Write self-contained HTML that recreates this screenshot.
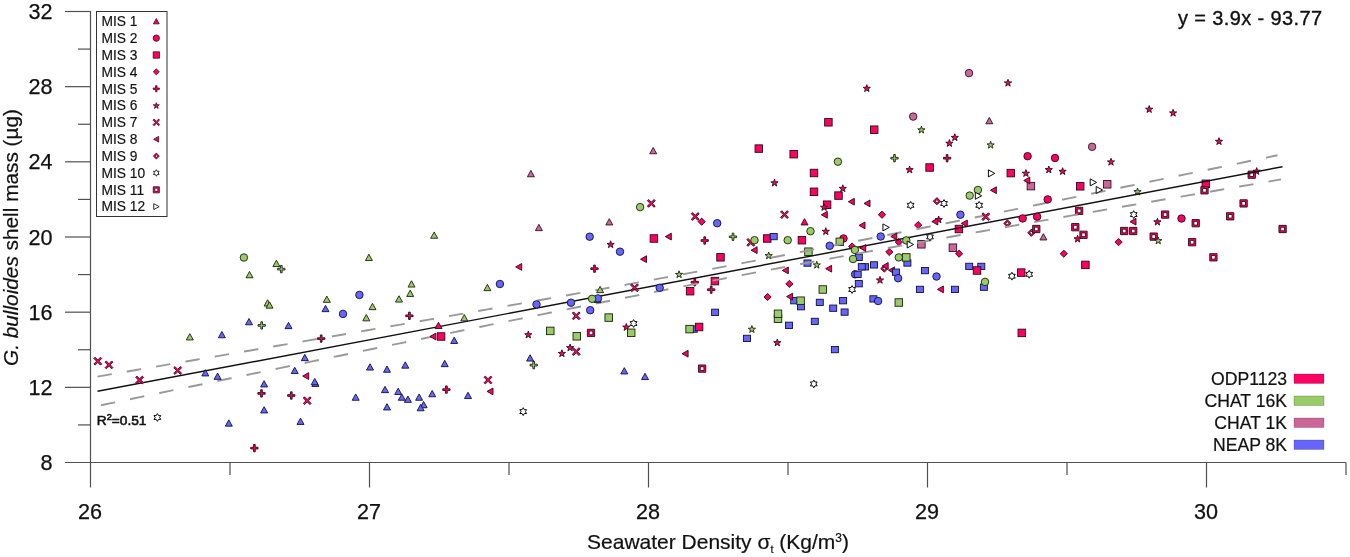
<!DOCTYPE html>
<html><head><meta charset="utf-8"><title>G. bulloides shell mass vs seawater density</title>
<style>html,body{margin:0;padding:0;background:#fff}body{width:1350px;height:557px;overflow:hidden}</style></head>
<body>
<svg width="1350" height="557" viewBox="0 0 1350 557" style="display:block">
<rect width="1350" height="557" fill="#fff"/>
<g stroke="#505050" stroke-width="1.2" fill="none">
<path d="M90.5 11.0V487.5"/>
<path d="M65 462.5H1346"/>
<path d="M230 462.5V475"/>
<path d="M369.5 462.5V487.5"/>
<path d="M509 462.5V475"/>
<path d="M648.5 462.5V487.5"/>
<path d="M788 462.5V475"/>
<path d="M927.5 462.5V487.5"/>
<path d="M1067 462.5V475"/>
<path d="M1206.5 462.5V487.5"/>
<path d="M1346 462.5V475"/>
<path d="M78 424.92H90.5"/>
<path d="M65 387.33H90.5"/>
<path d="M78 349.75H90.5"/>
<path d="M65 312.17H90.5"/>
<path d="M78 274.58H90.5"/>
<path d="M65 237H90.5"/>
<path d="M78 199.42H90.5"/>
<path d="M65 161.83H90.5"/>
<path d="M78 124.25H90.5"/>
<path d="M65 86.67H90.5"/>
<path d="M78 49.08H90.5"/>
<path d="M65 11.5H90.5"/>
</g>
<g font-family="'Liberation Sans', sans-serif" font-size="21.6" fill="#111" stroke="#111" stroke-width="0.25">
<text x="90" y="518.8" text-anchor="middle">26</text>
<text x="369" y="518.8" text-anchor="middle">27</text>
<text x="648" y="518.8" text-anchor="middle">28</text>
<text x="927" y="518.8" text-anchor="middle">29</text>
<text x="1206" y="518.8" text-anchor="middle">30</text>
<text x="52.5" y="470.1" text-anchor="end">8</text>
<text x="52.5" y="394.93" text-anchor="end">12</text>
<text x="52.5" y="319.77" text-anchor="end">16</text>
<text x="52.5" y="244.6" text-anchor="end">20</text>
<text x="52.5" y="169.43" text-anchor="end">24</text>
<text x="52.5" y="94.27" text-anchor="end">28</text>
<text x="52.5" y="19.1" text-anchor="end">32</text>
</g>
<text x="718" y="549.3" text-anchor="middle" font-family="'Liberation Sans', sans-serif" font-size="21" fill="#111" stroke="#111" stroke-width="0.2">Seawater Density σ<tspan font-size="11" dy="4">t</tspan><tspan dy="-4"> (Kg/m</tspan><tspan font-size="12" dy="-7">3</tspan><tspan dy="7">)</tspan></text>
<text transform="translate(18.3,237.5) rotate(-90)" text-anchor="middle" font-family="'Liberation Sans', sans-serif" font-size="20.8" fill="#111" stroke="#111" stroke-width="0.2"><tspan font-style="italic">G. bulloides</tspan> shell mass (µg)</text>
<text x="1178" y="25.2" font-family="'Liberation Sans', sans-serif" font-size="20" fill="#111" stroke="#111" stroke-width="0.35" textLength="144" lengthAdjust="spacing">y = 3.9x - 93.77</text>
<text x="96.8" y="424.6" font-family="'Liberation Sans', sans-serif" font-size="13.7" fill="#111" stroke="#111" stroke-width="0.6">R<tspan font-size="9.2" dy="-4.6">2</tspan><tspan dy="4.6">=0.51</tspan></text>
<g>
<path d="M280.45 265.45L282.15 265.45L282.15 268.25L284.95 268.25L284.95 269.95L282.15 269.95L282.15 272.75L280.45 272.75L280.45 269.95L277.65 269.95L277.65 268.25L280.45 268.25Z" fill="#99cc66" stroke="#18220e" stroke-width="0.9" stroke-linejoin="miter"/>
<path d="M260.85 321.75L262.55 321.75L262.55 324.55L265.35 324.55L265.35 326.25L262.55 326.25L262.55 329.05L260.85 329.05L260.85 326.25L258.05 326.25L258.05 324.55L260.85 324.55Z" fill="#99cc66" stroke="#18220e" stroke-width="0.9" stroke-linejoin="miter"/>
<path d="M320.35 334.95L322.05 334.95L322.05 337.75L324.85 337.75L324.85 339.45L322.05 339.45L322.05 342.25L320.35 342.25L320.35 339.45L317.55 339.45L317.55 337.75L320.35 337.75Z" fill="#fc0062" stroke="#2e0818" stroke-width="0.9" stroke-linejoin="miter"/>
<path d="M260.65 389.75L262.35 389.75L262.35 392.55L265.15 392.55L265.15 394.25L262.35 394.25L262.35 397.05L260.65 397.05L260.65 394.25L257.85 394.25L257.85 392.55L260.65 392.55Z" fill="#fc0062" stroke="#2e0818" stroke-width="0.9" stroke-linejoin="miter"/>
<path d="M290.45 391.85L292.15 391.85L292.15 394.65L294.95 394.65L294.95 396.35L292.15 396.35L292.15 399.15L290.45 399.15L290.45 396.35L287.65 396.35L287.65 394.65L290.45 394.65Z" fill="#fc0062" stroke="#2e0818" stroke-width="0.9" stroke-linejoin="miter"/>
<path d="M253.55 444.45L255.25 444.45L255.25 447.25L258.05 447.25L258.05 448.95L255.25 448.95L255.25 451.75L253.55 451.75L253.55 448.95L250.75 448.95L250.75 447.25L253.55 447.25Z" fill="#fc0062" stroke="#2e0818" stroke-width="0.9" stroke-linejoin="miter"/>
<path d="M408.55 312.15L410.25 312.15L410.25 314.95L413.05 314.95L413.05 316.65L410.25 316.65L410.25 319.45L408.55 319.45L408.55 316.65L405.75 316.65L405.75 314.95L408.55 314.95Z" fill="#fc0062" stroke="#2e0818" stroke-width="0.9" stroke-linejoin="miter"/>
<rect x="437.35" y="332.75" width="7.5" height="7.5" fill="#fc0062" stroke="#2e0818" stroke-width="0.9" stroke-linejoin="miter"/>
<path d="M528.3 331.1L529.18 333.69L531.91 333.73L529.73 335.36L530.53 337.97L528.3 336.4L526.07 337.97L526.87 335.36L524.69 333.73L527.42 333.69Z" fill="#fc0062" stroke="#2e0818" stroke-width="0.9" stroke-linejoin="miter"/>
<rect x="546.55" y="327.15" width="7.5" height="7.5" fill="#99cc66" stroke="#18220e" stroke-width="0.9" stroke-linejoin="miter"/>
<rect x="573.05" y="332.55" width="7.5" height="7.5" fill="#99cc66" stroke="#18220e" stroke-width="0.9" stroke-linejoin="miter"/>
<path d="M570.1 344L570.98 346.59L573.71 346.63L571.53 348.26L572.33 350.87L570.1 349.3L567.87 350.87L568.67 348.26L566.49 346.63L569.22 346.59Z" fill="#fc0062" stroke="#2e0818" stroke-width="0.9" stroke-linejoin="miter"/>
<path d="M561.9 349.8L562.78 352.39L565.51 352.43L563.33 354.06L564.13 356.67L561.9 355.1L559.67 356.67L560.47 354.06L558.29 352.43L561.02 352.39Z" fill="#fc0062" stroke="#2e0818" stroke-width="0.9" stroke-linejoin="miter"/>
<path d="M587.35 329.25L594.65 329.25L594.65 336.55L587.35 336.55ZM589.15 331.05L589.15 334.75L592.85 334.75L592.85 331.05Z" fill-rule="evenodd" fill="#fc0062" stroke="#2e0818" stroke-width="0.9" stroke-linejoin="miter"/>
<path d="M593.65 265.05L595.35 265.05L595.35 267.85L598.15 267.85L598.15 269.55L595.35 269.55L595.35 272.35L593.65 272.35L593.65 269.55L590.85 269.55L590.85 267.85L593.65 267.85Z" fill="#fc0062" stroke="#2e0818" stroke-width="0.9" stroke-linejoin="miter"/>
<rect x="604.95" y="313.85" width="7.5" height="7.5" fill="#99cc66" stroke="#18220e" stroke-width="0.9" stroke-linejoin="miter"/>
<path d="M445.55 385.95L447.25 385.95L447.25 388.75L450.05 388.75L450.05 390.45L447.25 390.45L447.25 393.25L445.55 393.25L445.55 390.45L442.75 390.45L442.75 388.75L445.55 388.75Z" fill="#fc0062" stroke="#2e0818" stroke-width="0.9" stroke-linejoin="miter"/>
<path d="M532.85 361.45L534.55 361.45L534.55 364.25L537.35 364.25L537.35 365.95L534.55 365.95L534.55 368.75L532.85 368.75L532.85 365.95L530.05 365.95L530.05 364.25L532.85 364.25Z" fill="#99cc66" stroke="#18220e" stroke-width="0.9" stroke-linejoin="miter"/>
<rect x="755.05" y="144.85" width="7.5" height="7.5" fill="#fc0062" stroke="#2e0818" stroke-width="0.9" stroke-linejoin="miter"/>
<rect x="789.95" y="150.45" width="7.5" height="7.5" fill="#fc0062" stroke="#2e0818" stroke-width="0.9" stroke-linejoin="miter"/>
<rect x="824.65" y="118.55" width="7.5" height="7.5" fill="#fc0062" stroke="#2e0818" stroke-width="0.9" stroke-linejoin="miter"/>
<path d="M866.8 84.7L867.68 87.29L870.41 87.33L868.23 88.96L869.03 91.57L866.8 90L864.57 91.57L865.37 88.96L863.19 87.33L865.92 87.29Z" fill="#fc0062" stroke="#2e0818" stroke-width="0.9" stroke-linejoin="miter"/>
<path d="M610.6 240.8L611.48 243.39L614.21 243.43L612.03 245.06L612.83 247.67L610.6 246.1L608.37 247.67L609.17 245.06L606.99 243.43L609.72 243.39Z" fill="#fc0062" stroke="#2e0818" stroke-width="0.9" stroke-linejoin="miter"/>
<rect x="650.15" y="234.75" width="7.5" height="7.5" fill="#fc0062" stroke="#2e0818" stroke-width="0.9" stroke-linejoin="miter"/>
<path d="M701.7 218.1L705.3 221.7L701.7 225.3L698.1 221.7Z" fill="#fc0062" stroke="#2e0818" stroke-width="0.9" stroke-linejoin="miter"/>
<path d="M703.85 236.85L705.55 236.85L705.55 239.65L708.35 239.65L708.35 241.35L705.55 241.35L705.55 244.15L703.85 244.15L703.85 241.35L701.05 241.35L701.05 239.65L703.85 239.65Z" fill="#fc0062" stroke="#2e0818" stroke-width="0.9" stroke-linejoin="miter"/>
<path d="M732.15 233.15L733.85 233.15L733.85 235.95L736.65 235.95L736.65 237.65L733.85 237.65L733.85 240.45L732.15 240.45L732.15 237.65L729.35 237.65L729.35 235.95L732.15 235.95Z" fill="#99cc66" stroke="#18220e" stroke-width="0.9" stroke-linejoin="miter"/>
<rect x="716.75" y="253.55" width="7.5" height="7.5" fill="#fc0062" stroke="#2e0818" stroke-width="0.9" stroke-linejoin="miter"/>
<path d="M679.1 270.8L679.98 273.39L682.71 273.43L680.53 275.06L681.33 277.67L679.1 276.1L676.87 277.67L677.67 275.06L675.49 273.43L678.22 273.39Z" fill="#99cc66" stroke="#18220e" stroke-width="0.9" stroke-linejoin="miter"/>
<path d="M774.5 179.2L775.38 181.79L778.11 181.83L775.93 183.46L776.73 186.07L774.5 184.5L772.27 186.07L773.07 183.46L770.89 181.83L773.62 181.79Z" fill="#fc0062" stroke="#2e0818" stroke-width="0.9" stroke-linejoin="miter"/>
<rect x="763.45" y="234.75" width="7.5" height="7.5" fill="#fc0062" stroke="#2e0818" stroke-width="0.9" stroke-linejoin="miter"/>
<rect x="770.2" y="233.45" width="7" height="6.3" fill="#6666ff" stroke="#101036" stroke-width="0.9" stroke-linejoin="miter"/>
<path d="M768.7 252L769.58 254.59L772.31 254.63L770.13 256.26L770.93 258.87L768.7 257.3L766.47 258.87L767.27 256.26L765.09 254.63L767.82 254.59Z" fill="#99cc66" stroke="#18220e" stroke-width="0.9" stroke-linejoin="miter"/>
<rect x="798.15" y="236.45" width="7.5" height="7.5" fill="#fc0062" stroke="#2e0818" stroke-width="0.9" stroke-linejoin="miter"/>
<rect x="810.25" y="169.25" width="7.5" height="7.5" fill="#fc0062" stroke="#2e0818" stroke-width="0.9" stroke-linejoin="miter"/>
<rect x="810.25" y="188.05" width="7.5" height="7.5" fill="#fc0062" stroke="#2e0818" stroke-width="0.9" stroke-linejoin="miter"/>
<rect x="823.35" y="200.95" width="7.5" height="7.5" fill="#fc0062" stroke="#2e0818" stroke-width="0.9" stroke-linejoin="miter"/>
<path d="M824.1 203.6L824.98 206.19L827.71 206.23L825.53 207.86L826.33 210.47L824.1 208.9L821.87 210.47L822.67 207.86L820.49 206.23L823.22 206.19Z" fill="#fc0062" stroke="#2e0818" stroke-width="0.9" stroke-linejoin="miter"/>
<path d="M825.8 227.7L826.68 230.29L829.41 230.33L827.23 231.96L828.03 234.57L825.8 233L823.57 234.57L824.37 231.96L822.19 230.33L824.92 230.29Z" fill="#fc0062" stroke="#2e0818" stroke-width="0.9" stroke-linejoin="miter"/>
<rect x="834.75" y="191.85" width="7.5" height="7.5" fill="#fc0062" stroke="#2e0818" stroke-width="0.9" stroke-linejoin="miter"/>
<path d="M842.8 184.8L843.68 187.39L846.41 187.43L844.23 189.06L845.03 191.67L842.8 190.1L840.57 191.67L841.37 189.06L839.19 187.43L841.92 187.39Z" fill="#fc0062" stroke="#2e0818" stroke-width="0.9" stroke-linejoin="miter"/>
<circle cx="843.5" cy="238.5" r="3.75" fill="#fc0062" stroke="#2e0818" stroke-width="0.9" stroke-linejoin="miter"/>
<rect x="836.05" y="238.05" width="7.5" height="7.5" fill="#99cc66" stroke="#18220e" stroke-width="0.9" stroke-linejoin="miter"/>
<rect x="804.65" y="247.95" width="7.5" height="7.5" fill="#99cc66" stroke="#18220e" stroke-width="0.9" stroke-linejoin="miter"/>
<rect x="804" y="259.95" width="7" height="6.3" fill="#6666ff" stroke="#101036" stroke-width="0.9" stroke-linejoin="miter"/>
<path d="M816.8 261.3L817.68 263.89L820.41 263.93L818.23 265.56L819.03 268.17L816.8 266.6L814.57 268.17L815.37 265.56L813.19 263.93L815.92 263.89Z" fill="#99cc66" stroke="#18220e" stroke-width="0.9" stroke-linejoin="miter"/>
<path d="M852.1 242.9L855.7 246.5L852.1 250.1L848.5 246.5Z" fill="#fc0062" stroke="#2e0818" stroke-width="0.9" stroke-linejoin="miter"/>
<rect x="855.3" y="254.15" width="7" height="6.3" fill="#6666ff" stroke="#101036" stroke-width="0.9" stroke-linejoin="miter"/>
<rect x="861.5" y="263.65" width="7" height="6.3" fill="#6666ff" stroke="#101036" stroke-width="0.9" stroke-linejoin="miter"/>
<rect x="858.3" y="263.65" width="7" height="6.3" fill="#6666ff" stroke="#101036" stroke-width="0.9" stroke-linejoin="miter"/>
<circle cx="855.1" cy="274.3" r="3.75" fill="#6666ff" stroke="#101036" stroke-width="0.9" stroke-linejoin="miter"/>
<rect x="854.2" y="271.15" width="7" height="6.3" fill="#6666ff" stroke="#101036" stroke-width="0.9" stroke-linejoin="miter"/>
<path d="M693.95 278.55L695.65 278.55L695.65 281.35L698.45 281.35L698.45 283.05L695.65 283.05L695.65 285.85L693.95 285.85L693.95 283.05L691.15 283.05L691.15 281.35L693.95 281.35Z" fill="#fc0062" stroke="#2e0818" stroke-width="0.9" stroke-linejoin="miter"/>
<rect x="711.15" y="277.35" width="7.5" height="7.5" fill="#fc0062" stroke="#2e0818" stroke-width="0.9" stroke-linejoin="miter"/>
<rect x="686.35" y="287.45" width="7.5" height="7.5" fill="#fc0062" stroke="#2e0818" stroke-width="0.9" stroke-linejoin="miter"/>
<path d="M710.35 286.05L712.05 286.05L712.05 288.85L714.85 288.85L714.85 290.55L712.05 290.55L712.05 293.35L710.35 293.35L710.35 290.55L707.55 290.55L707.55 288.85L710.35 288.85Z" fill="#fc0062" stroke="#2e0818" stroke-width="0.9" stroke-linejoin="miter"/>
<path d="M626.3 323.5L627.18 326.09L629.91 326.13L627.73 327.76L628.53 330.37L626.3 328.8L624.07 330.37L624.87 327.76L622.69 326.13L625.42 326.09Z" fill="#fc0062" stroke="#2e0818" stroke-width="0.9" stroke-linejoin="miter"/>
<rect x="627.45" y="329.05" width="7.5" height="7.5" fill="#99cc66" stroke="#18220e" stroke-width="0.9" stroke-linejoin="miter"/>
<rect x="711.6" y="309.15" width="7" height="6.3" fill="#6666ff" stroke="#101036" stroke-width="0.9" stroke-linejoin="miter"/>
<rect x="690.2" y="325.95" width="7" height="6.3" fill="#6666ff" stroke="#101036" stroke-width="0.9" stroke-linejoin="miter"/>
<rect x="685.85" y="325.35" width="7.5" height="7.5" fill="#99cc66" stroke="#18220e" stroke-width="0.9" stroke-linejoin="miter"/>
<rect x="695.35" y="323.25" width="7.5" height="7.5" fill="#fc0062" stroke="#2e0818" stroke-width="0.9" stroke-linejoin="miter"/>
<path d="M698.45 364.95L705.75 364.95L705.75 372.25L698.45 372.25ZM700.25 366.75L700.25 370.45L703.95 370.45L703.95 366.75Z" fill-rule="evenodd" fill="#fc0062" stroke="#2e0818" stroke-width="0.9" stroke-linejoin="miter"/>
<path d="M789.4 280.3L793 283.9L789.4 287.5L785.8 283.9Z" fill="#fc0062" stroke="#2e0818" stroke-width="0.9" stroke-linejoin="miter"/>
<path d="M767.6 293.4L771.2 297L767.6 300.6L764 297Z" fill="#fc0062" stroke="#2e0818" stroke-width="0.9" stroke-linejoin="miter"/>
<rect x="790.7" y="297.55" width="7" height="6.3" fill="#6666ff" stroke="#101036" stroke-width="0.9" stroke-linejoin="miter"/>
<rect x="797.5" y="303.55" width="7" height="6.3" fill="#6666ff" stroke="#101036" stroke-width="0.9" stroke-linejoin="miter"/>
<rect x="796.85" y="296.95" width="7.5" height="7.5" fill="#99cc66" stroke="#18220e" stroke-width="0.9" stroke-linejoin="miter"/>
<rect x="819.05" y="285.75" width="7.5" height="7.5" fill="#99cc66" stroke="#18220e" stroke-width="0.9" stroke-linejoin="miter"/>
<rect x="855.3" y="280.55" width="7" height="6.3" fill="#6666ff" stroke="#101036" stroke-width="0.9" stroke-linejoin="miter"/>
<rect x="816.3" y="299.25" width="7" height="6.3" fill="#6666ff" stroke="#101036" stroke-width="0.9" stroke-linejoin="miter"/>
<rect x="839.6" y="297.55" width="7" height="6.3" fill="#6666ff" stroke="#101036" stroke-width="0.9" stroke-linejoin="miter"/>
<rect x="829.7" y="305.05" width="7" height="6.3" fill="#6666ff" stroke="#101036" stroke-width="0.9" stroke-linejoin="miter"/>
<rect x="841.1" y="308.95" width="7" height="6.3" fill="#6666ff" stroke="#101036" stroke-width="0.9" stroke-linejoin="miter"/>
<rect x="774.25" y="315.05" width="7.5" height="7.5" fill="#99cc66" stroke="#18220e" stroke-width="0.9" stroke-linejoin="miter"/>
<rect x="774.25" y="310.05" width="7.5" height="7.5" fill="#99cc66" stroke="#18220e" stroke-width="0.9" stroke-linejoin="miter"/>
<rect x="785.5" y="322.15" width="7" height="6.3" fill="#6666ff" stroke="#101036" stroke-width="0.9" stroke-linejoin="miter"/>
<rect x="811.3" y="318.25" width="7" height="6.3" fill="#6666ff" stroke="#101036" stroke-width="0.9" stroke-linejoin="miter"/>
<path d="M751.9 325.6L752.78 328.19L755.51 328.23L753.33 329.86L754.13 332.47L751.9 330.9L749.67 332.47L750.47 329.86L748.29 328.23L751.02 328.19Z" fill="#99cc66" stroke="#18220e" stroke-width="0.9" stroke-linejoin="miter"/>
<rect x="743.5" y="335.25" width="7" height="6.3" fill="#6666ff" stroke="#101036" stroke-width="0.9" stroke-linejoin="miter"/>
<path d="M777.3 339L778.18 341.59L780.91 341.63L778.73 343.26L779.53 345.87L777.3 344.3L775.07 345.87L775.87 343.26L773.69 341.63L776.42 341.59Z" fill="#fc0062" stroke="#2e0818" stroke-width="0.9" stroke-linejoin="miter"/>
<rect x="831.4" y="346.45" width="7" height="6.3" fill="#6666ff" stroke="#101036" stroke-width="0.9" stroke-linejoin="miter"/>
<path d="M1008 79.3L1008.88 81.89L1011.61 81.93L1009.43 83.56L1010.23 86.17L1008 84.6L1005.77 86.17L1006.57 83.56L1004.39 81.93L1007.12 81.89Z" fill="#fc0062" stroke="#2e0818" stroke-width="0.9" stroke-linejoin="miter"/>
<rect x="870.45" y="125.95" width="7.5" height="7.5" fill="#fc0062" stroke="#2e0818" stroke-width="0.9" stroke-linejoin="miter"/>
<path d="M921.4 126.2L922.28 128.79L925.01 128.83L922.83 130.46L923.63 133.07L921.4 131.5L919.17 133.07L919.97 130.46L917.79 128.83L920.52 128.79Z" fill="#99cc66" stroke="#18220e" stroke-width="0.9" stroke-linejoin="miter"/>
<path d="M954.8 133.8L955.68 136.39L958.41 136.43L956.23 138.06L957.03 140.67L954.8 139.1L952.57 140.67L953.37 138.06L951.19 136.43L953.92 136.39Z" fill="#fc0062" stroke="#2e0818" stroke-width="0.9" stroke-linejoin="miter"/>
<path d="M949.4 139.6L950.28 142.19L953.01 142.23L950.83 143.86L951.63 146.47L949.4 144.9L947.17 146.47L947.97 143.86L945.79 142.23L948.52 142.19Z" fill="#fc0062" stroke="#2e0818" stroke-width="0.9" stroke-linejoin="miter"/>
<path d="M990.6 141.3L991.48 143.89L994.21 143.93L992.03 145.56L992.83 148.17L990.6 146.6L988.37 148.17L989.17 145.56L986.99 143.93L989.72 143.89Z" fill="#99cc66" stroke="#18220e" stroke-width="0.9" stroke-linejoin="miter"/>
<path d="M893.65 154.55L895.35 154.55L895.35 157.35L898.15 157.35L898.15 159.05L895.35 159.05L895.35 161.85L893.65 161.85L893.65 159.05L890.85 159.05L890.85 157.35L893.65 157.35Z" fill="#99cc66" stroke="#18220e" stroke-width="0.9" stroke-linejoin="miter"/>
<path d="M946.25 154.55L947.95 154.55L947.95 157.35L950.75 157.35L950.75 159.05L947.95 159.05L947.95 161.85L946.25 161.85L946.25 159.05L943.45 159.05L943.45 157.35L946.25 157.35Z" fill="#fc0062" stroke="#2e0818" stroke-width="0.9" stroke-linejoin="miter"/>
<path d="M1111 158.3L1111.88 160.89L1114.61 160.93L1112.43 162.56L1113.23 165.17L1111 163.6L1108.77 165.17L1109.57 162.56L1107.39 160.93L1110.12 160.89Z" fill="#fc0062" stroke="#2e0818" stroke-width="0.9" stroke-linejoin="miter"/>
<path d="M909.6 166L910.48 168.59L913.21 168.63L911.03 170.26L911.83 172.87L909.6 171.3L907.37 172.87L908.17 170.26L905.99 168.63L908.72 168.59Z" fill="#fc0062" stroke="#2e0818" stroke-width="0.9" stroke-linejoin="miter"/>
<rect x="925.85" y="163.75" width="7.5" height="7.5" fill="#fc0062" stroke="#2e0818" stroke-width="0.9" stroke-linejoin="miter"/>
<rect x="1007.05" y="169.35" width="7.5" height="7.5" fill="#fc0062" stroke="#2e0818" stroke-width="0.9" stroke-linejoin="miter"/>
<path d="M1025.9 169.6L1026.78 172.19L1029.51 172.23L1027.33 173.86L1028.13 176.47L1025.9 174.9L1023.67 176.47L1024.47 173.86L1022.29 172.23L1025.02 172.19Z" fill="#fc0062" stroke="#2e0818" stroke-width="0.9" stroke-linejoin="miter"/>
<rect x="1027.15" y="182.35" width="7.5" height="7.5" fill="#cc6699" stroke="#2a1422" stroke-width="0.9" stroke-linejoin="miter"/>
<path d="M1048.8 166L1049.68 168.59L1052.41 168.63L1050.23 170.26L1051.03 172.87L1048.8 171.3L1046.57 172.87L1047.37 170.26L1045.19 168.63L1047.92 168.59Z" fill="#fc0062" stroke="#2e0818" stroke-width="0.9" stroke-linejoin="miter"/>
<path d="M1062.6 167.7L1063.48 170.29L1066.21 170.33L1064.03 171.96L1064.83 174.57L1062.6 173L1060.37 174.57L1061.17 171.96L1058.99 170.33L1061.72 170.29Z" fill="#fc0062" stroke="#2e0818" stroke-width="0.9" stroke-linejoin="miter"/>
<rect x="1076.45" y="182.55" width="7.5" height="7.5" fill="#fc0062" stroke="#2e0818" stroke-width="0.9" stroke-linejoin="miter"/>
<rect x="1103.45" y="180.55" width="7.5" height="7.5" fill="#cc6699" stroke="#2a1422" stroke-width="0.9" stroke-linejoin="miter"/>
<path d="M936.9 197.6L940.5 201.2L936.9 204.8L933.3 201.2ZM936.9 199.6L935.3 201.2L936.9 202.8L938.5 201.2Z" fill-rule="evenodd" fill="#fc0062" stroke="#2e0818" stroke-width="0.9" stroke-linejoin="miter"/>
<path d="M882 211.1L885.6 214.7L882 218.3L878.4 214.7Z" fill="#fc0062" stroke="#2e0818" stroke-width="0.9" stroke-linejoin="miter"/>
<path d="M1075.45 207.25L1082.75 207.25L1082.75 214.55L1075.45 214.55ZM1077.25 209.05L1077.25 212.75L1080.95 212.75L1080.95 209.05Z" fill-rule="evenodd" fill="#fc0062" stroke="#2e0818" stroke-width="0.9" stroke-linejoin="miter"/>
<path d="M918.2 221.5L921.8 225.1L918.2 228.7L914.6 225.1Z" fill="#fc0062" stroke="#2e0818" stroke-width="0.9" stroke-linejoin="miter"/>
<path d="M938.7 216L939.58 218.59L942.31 218.63L940.13 220.26L940.93 222.87L938.7 221.3L936.47 222.87L937.27 220.26L935.09 218.63L937.82 218.59Z" fill="#fc0062" stroke="#2e0818" stroke-width="0.9" stroke-linejoin="miter"/>
<path d="M1007.4 219.8L1011 223.4L1007.4 227L1003.8 223.4ZM1007.4 221.8L1005.8 223.4L1007.4 225L1009 223.4Z" fill-rule="evenodd" fill="#fc0062" stroke="#2e0818" stroke-width="0.9" stroke-linejoin="miter"/>
<rect x="955.15" y="225.25" width="7.5" height="7.5" fill="#fc0062" stroke="#2e0818" stroke-width="0.9" stroke-linejoin="miter"/>
<path d="M1031.3 229.2L1034.9 232.8L1031.3 236.4L1027.7 232.8ZM1031.3 231.2L1029.7 232.8L1031.3 234.4L1032.9 232.8Z" fill-rule="evenodd" fill="#fc0062" stroke="#2e0818" stroke-width="0.9" stroke-linejoin="miter"/>
<path d="M1032.65 225.35L1039.95 225.35L1039.95 232.65L1032.65 232.65ZM1034.45 227.15L1034.45 230.85L1038.15 230.85L1038.15 227.15Z" fill-rule="evenodd" fill="#fc0062" stroke="#2e0818" stroke-width="0.9" stroke-linejoin="miter"/>
<path d="M1071.65 223.55L1078.95 223.55L1078.95 230.85L1071.65 230.85ZM1073.45 225.35L1073.45 229.05L1077.15 229.05L1077.15 225.35Z" fill-rule="evenodd" fill="#fc0062" stroke="#2e0818" stroke-width="0.9" stroke-linejoin="miter"/>
<path d="M1079.85 231.15L1087.15 231.15L1087.15 238.45L1079.85 238.45ZM1081.65 232.95L1081.65 236.65L1085.35 236.65L1085.35 232.95Z" fill-rule="evenodd" fill="#fc0062" stroke="#2e0818" stroke-width="0.9" stroke-linejoin="miter"/>
<path d="M1077.6 235.2L1078.48 237.79L1081.21 237.83L1079.03 239.46L1079.83 242.07L1077.6 240.5L1075.37 242.07L1076.17 239.46L1073.99 237.83L1076.72 237.79Z" fill="#fc0062" stroke="#2e0818" stroke-width="0.9" stroke-linejoin="miter"/>
<path d="M1118.6 238.5L1122.2 242.1L1118.6 245.7L1115 242.1Z" fill="#fc0062" stroke="#2e0818" stroke-width="0.9" stroke-linejoin="miter"/>
<path d="M898.8 238.5L902.4 242.1L898.8 245.7L895.2 242.1Z" fill="#fc0062" stroke="#2e0818" stroke-width="0.9" stroke-linejoin="miter"/>
<rect x="917.65" y="240.55" width="7.5" height="7.5" fill="#cc6699" stroke="#2a1422" stroke-width="0.9" stroke-linejoin="miter"/>
<path d="M889.3 248.4L892.9 252L889.3 255.6L885.7 252Z" fill="#fc0062" stroke="#2e0818" stroke-width="0.9" stroke-linejoin="miter"/>
<rect x="903.9" y="259.85" width="7" height="6.3" fill="#6666ff" stroke="#101036" stroke-width="0.9" stroke-linejoin="miter"/>
<rect x="902.55" y="253.65" width="7.5" height="7.5" fill="#99cc66" stroke="#18220e" stroke-width="0.9" stroke-linejoin="miter"/>
<rect x="949.15" y="243.95" width="7.5" height="7.5" fill="#cc6699" stroke="#2a1422" stroke-width="0.9" stroke-linejoin="miter"/>
<path d="M959.1 250.1L962.7 253.7L959.1 257.3L955.5 253.7Z" fill="#fc0062" stroke="#2e0818" stroke-width="0.9" stroke-linejoin="miter"/>
<path d="M1063.8 250.1L1067.4 253.7L1063.8 257.3L1060.2 253.7Z" fill="#fc0062" stroke="#2e0818" stroke-width="0.9" stroke-linejoin="miter"/>
<rect x="1081.65" y="261.15" width="7.5" height="7.5" fill="#fc0062" stroke="#2e0818" stroke-width="0.9" stroke-linejoin="miter"/>
<rect x="870.5" y="261.75" width="7" height="6.3" fill="#6666ff" stroke="#101036" stroke-width="0.9" stroke-linejoin="miter"/>
<path d="M884.3 265L887.9 268.6L884.3 272.2L880.7 268.6ZM884.3 267L882.7 268.6L884.3 270.2L885.9 268.6Z" fill-rule="evenodd" fill="#fc0062" stroke="#2e0818" stroke-width="0.9" stroke-linejoin="miter"/>
<path d="M888.5 270.3L894.5 266.9L894.5 273.7Z" fill="#fc0062" stroke="#2e0818" stroke-width="0.9" stroke-linejoin="miter"/>
<rect x="965.7" y="263.25" width="7" height="6.3" fill="#6666ff" stroke="#101036" stroke-width="0.9" stroke-linejoin="miter"/>
<rect x="977.8" y="263.25" width="7" height="6.3" fill="#6666ff" stroke="#101036" stroke-width="0.9" stroke-linejoin="miter"/>
<rect x="973.25" y="266.75" width="7.5" height="7.5" fill="#fc0062" stroke="#2e0818" stroke-width="0.9" stroke-linejoin="miter"/>
<path d="M880 276.4L880.88 278.99L883.61 279.03L881.43 280.66L882.23 283.27L880 281.7L877.77 283.27L878.57 280.66L876.39 279.03L879.12 278.99Z" fill="#fc0062" stroke="#2e0818" stroke-width="0.9" stroke-linejoin="miter"/>
<rect x="892.5" y="269.05" width="7" height="6.3" fill="#6666ff" stroke="#101036" stroke-width="0.9" stroke-linejoin="miter"/>
<rect x="921.4" y="267.45" width="7" height="6.3" fill="#6666ff" stroke="#101036" stroke-width="0.9" stroke-linejoin="miter"/>
<rect x="980.4" y="284.05" width="7" height="6.3" fill="#6666ff" stroke="#101036" stroke-width="0.9" stroke-linejoin="miter"/>
<rect x="916.4" y="286.25" width="7" height="6.3" fill="#6666ff" stroke="#101036" stroke-width="0.9" stroke-linejoin="miter"/>
<rect x="951.5" y="286.25" width="7" height="6.3" fill="#6666ff" stroke="#101036" stroke-width="0.9" stroke-linejoin="miter"/>
<rect x="869.9" y="295.75" width="7" height="6.3" fill="#6666ff" stroke="#101036" stroke-width="0.9" stroke-linejoin="miter"/>
<rect x="895.05" y="298.75" width="7.5" height="7.5" fill="#99cc66" stroke="#18220e" stroke-width="0.9" stroke-linejoin="miter"/>
<rect x="1018.05" y="329.15" width="7.5" height="7.5" fill="#fc0062" stroke="#2e0818" stroke-width="0.9" stroke-linejoin="miter"/>
<rect x="1017.45" y="268.85" width="7.5" height="7.5" fill="#fc0062" stroke="#2e0818" stroke-width="0.9" stroke-linejoin="miter"/>
<path d="M1149.2 105.6L1150.08 108.19L1152.81 108.23L1150.63 109.86L1151.43 112.47L1149.2 110.9L1146.97 112.47L1147.77 109.86L1145.59 108.23L1148.32 108.19Z" fill="#fc0062" stroke="#2e0818" stroke-width="0.9" stroke-linejoin="miter"/>
<path d="M1173.1 109.3L1173.98 111.89L1176.71 111.93L1174.53 113.56L1175.33 116.17L1173.1 114.6L1170.87 116.17L1171.67 113.56L1169.49 111.93L1172.22 111.89Z" fill="#fc0062" stroke="#2e0818" stroke-width="0.9" stroke-linejoin="miter"/>
<path d="M1219 137.7L1219.88 140.29L1222.61 140.33L1220.43 141.96L1221.23 144.57L1219 143L1216.77 144.57L1217.57 141.96L1215.39 140.33L1218.12 140.29Z" fill="#fc0062" stroke="#2e0818" stroke-width="0.9" stroke-linejoin="miter"/>
<path d="M1137.5 188L1138.38 190.59L1141.11 190.63L1138.93 192.26L1139.73 194.87L1137.5 193.3L1135.27 194.87L1136.07 192.26L1133.89 190.63L1136.62 190.59Z" fill="#99cc66" stroke="#18220e" stroke-width="0.9" stroke-linejoin="miter"/>
<rect x="1202.05" y="180.05" width="7.5" height="7.5" fill="#fc0062" stroke="#2e0818" stroke-width="0.9" stroke-linejoin="miter"/>
<path d="M1200.85 186.65L1208.15 186.65L1208.15 193.95L1200.85 193.95ZM1202.65 188.45L1202.65 192.15L1206.35 192.15L1206.35 188.45Z" fill-rule="evenodd" fill="#fc0062" stroke="#2e0818" stroke-width="0.9" stroke-linejoin="miter"/>
<path d="M1256.7 167.6L1257.58 170.19L1260.31 170.23L1258.13 171.86L1258.93 174.47L1256.7 172.9L1254.47 174.47L1255.27 171.86L1253.09 170.23L1255.82 170.19Z" fill="#fc0062" stroke="#2e0818" stroke-width="0.9" stroke-linejoin="miter"/>
<path d="M1248.05 171.05L1255.35 171.05L1255.35 178.35L1248.05 178.35ZM1249.85 172.85L1249.85 176.55L1253.55 176.55L1253.55 172.85Z" fill-rule="evenodd" fill="#fc0062" stroke="#2e0818" stroke-width="0.9" stroke-linejoin="miter"/>
<path d="M1239.95 199.75L1247.25 199.75L1247.25 207.05L1239.95 207.05ZM1241.75 201.55L1241.75 205.25L1245.45 205.25L1245.45 201.55Z" fill-rule="evenodd" fill="#fc0062" stroke="#2e0818" stroke-width="0.9" stroke-linejoin="miter"/>
<path d="M1226.55 212.65L1233.85 212.65L1233.85 219.95L1226.55 219.95ZM1228.35 214.45L1228.35 218.15L1232.05 218.15L1232.05 214.45Z" fill-rule="evenodd" fill="#fc0062" stroke="#2e0818" stroke-width="0.9" stroke-linejoin="miter"/>
<path d="M1278.95 225.35L1286.25 225.35L1286.25 232.65L1278.95 232.65ZM1280.75 227.15L1280.75 230.85L1284.45 230.85L1284.45 227.15Z" fill-rule="evenodd" fill="#fc0062" stroke="#2e0818" stroke-width="0.9" stroke-linejoin="miter"/>
<path d="M1161.45 210.95L1168.75 210.95L1168.75 218.25L1161.45 218.25ZM1163.25 212.75L1163.25 216.45L1166.95 216.45L1166.95 212.75Z" fill-rule="evenodd" fill="#fc0062" stroke="#2e0818" stroke-width="0.9" stroke-linejoin="miter"/>
<path d="M1192.05 219.55L1199.35 219.55L1199.35 226.85L1192.05 226.85ZM1193.85 221.35L1193.85 225.05L1197.55 225.05L1197.55 221.35Z" fill-rule="evenodd" fill="#fc0062" stroke="#2e0818" stroke-width="0.9" stroke-linejoin="miter"/>
<path d="M1157.4 218.2L1158.28 220.79L1161.01 220.83L1158.83 222.46L1159.63 225.07L1157.4 223.5L1155.17 225.07L1155.97 222.46L1153.79 220.83L1156.52 220.79Z" fill="#fc0062" stroke="#2e0818" stroke-width="0.9" stroke-linejoin="miter"/>
<path d="M1120.55 227.35L1127.85 227.35L1127.85 234.65L1120.55 234.65ZM1122.35 229.15L1122.35 232.85L1126.05 232.85L1126.05 229.15Z" fill-rule="evenodd" fill="#fc0062" stroke="#2e0818" stroke-width="0.9" stroke-linejoin="miter"/>
<path d="M1129.55 227.35L1136.85 227.35L1136.85 234.65L1129.55 234.65ZM1131.35 229.15L1131.35 232.85L1135.05 232.85L1135.05 229.15Z" fill-rule="evenodd" fill="#fc0062" stroke="#2e0818" stroke-width="0.9" stroke-linejoin="miter"/>
<path d="M1150.05 232.95L1157.35 232.95L1157.35 240.25L1150.05 240.25ZM1151.85 234.75L1151.85 238.45L1155.55 238.45L1155.55 234.75Z" fill-rule="evenodd" fill="#fc0062" stroke="#2e0818" stroke-width="0.9" stroke-linejoin="miter"/>
<path d="M1158.2 237L1159.08 239.59L1161.81 239.63L1159.63 241.26L1160.43 243.87L1158.2 242.3L1155.97 243.87L1156.77 241.26L1154.59 239.63L1157.32 239.59Z" fill="#99cc66" stroke="#18220e" stroke-width="0.9" stroke-linejoin="miter"/>
<path d="M1188.45 238.55L1195.75 238.55L1195.75 245.85L1188.45 245.85ZM1190.25 240.35L1190.25 244.05L1193.95 244.05L1193.95 240.35Z" fill-rule="evenodd" fill="#fc0062" stroke="#2e0818" stroke-width="0.9" stroke-linejoin="miter"/>
<path d="M1209.75 253.65L1217.05 253.65L1217.05 260.95L1209.75 260.95ZM1211.55 255.45L1211.55 259.15L1215.25 259.15L1215.25 255.45Z" fill-rule="evenodd" fill="#fc0062" stroke="#2e0818" stroke-width="0.9" stroke-linejoin="miter"/>
</g>
<path d="M97.5 391.3L1282.5 166.7" stroke="#111" stroke-width="1.45" fill="none"/>
<path d="M97.5 376.6L107.5 374.9L117.5 373.19L127.5 371.48L137.5 369.77L147.5 368.07L157.5 366.36L167.5 364.65L177.5 362.93L187.5 361.22L197.5 359.51L207.5 357.8L217.5 356.09L227.5 354.37L237.5 352.66L247.5 350.94L257.5 349.22L267.5 347.51L277.5 345.79L287.5 344.07L297.5 342.35L307.5 340.62L317.5 338.9L327.5 337.18L337.5 335.45L347.5 333.73L357.5 332L367.5 330.27L377.5 328.54L387.5 326.8L397.5 325.07L407.5 323.33L417.5 321.59L427.5 319.85L437.5 318.11L447.5 316.37L457.5 314.62L467.5 312.87L477.5 311.12L487.5 309.36L497.5 307.61L507.5 305.84L517.5 304.08L527.5 302.31L537.5 300.54L547.5 298.77L557.5 296.99L567.5 295.21L577.5 293.42L587.5 291.63L597.5 289.83L607.5 288.03L617.5 286.23L627.5 284.41L637.5 282.6L647.5 280.77L657.5 278.94L667.5 277.11L677.5 275.27L687.5 273.42L697.5 271.56L707.5 269.7L717.5 267.83L727.5 265.96L737.5 264.08L747.5 262.19L757.5 260.29L767.5 258.38L777.5 256.47L787.5 254.55L797.5 252.63L807.5 250.7L817.5 248.76L827.5 246.81L837.5 244.86L847.5 242.9L857.5 240.94L867.5 238.96L877.5 236.99L887.5 235.01L897.5 233.02L907.5 231.03L917.5 229.03L927.5 227.03L937.5 225.02L947.5 223.01L957.5 221L967.5 218.98L977.5 216.96L987.5 214.93L997.5 212.91L1007.5 210.87L1017.5 208.84L1027.5 206.8L1037.5 204.76L1047.5 202.72L1057.5 200.67L1067.5 198.63L1077.5 196.58L1087.5 194.53L1097.5 192.47L1107.5 190.42L1117.5 188.36L1127.5 186.3L1137.5 184.24L1147.5 182.18L1157.5 180.12L1167.5 178.05L1177.5 175.99L1187.5 173.92L1197.5 171.85L1207.5 169.78L1217.5 167.71L1227.5 165.64L1237.5 163.57L1247.5 161.49L1257.5 159.42L1267.5 157.34L1277.5 155.27" stroke="#999" stroke-width="1.9" fill="none" stroke-dasharray="14.5 15.22"/>
<path d="M101 405.27L111 403.18L121 401.1L131 399.02L141 396.93L151 394.85L161 392.77L171 390.69L181 388.61L191 386.53L201 384.45L211 382.38L221 380.3L231 378.22L241 376.15L251 374.07L261 372L271 369.93L281 367.86L291 365.78L301 363.71L311 361.65L321 359.58L331 357.51L341 355.45L351 353.38L361 351.32L371 349.26L381 347.2L391 345.15L401 343.09L411 341.04L421 338.99L431 336.94L441 334.89L451 332.84L461 330.8L471 328.76L481 326.72L491 324.69L501 322.65L511 320.63L521 318.6L531 316.58L541 314.56L551 312.54L561 310.53L571 308.53L581 306.53L591 304.53L601 302.53L611 300.55L621 298.56L631 296.59L641 294.62L651 292.65L661 290.69L671 288.74L681 286.79L691 284.85L701 282.92L711 280.99L721 279.07L731 277.16L741 275.25L751 273.35L761 271.46L771 269.58L781 267.7L791 265.83L801 263.97L811 262.11L821 260.27L831 258.42L841 256.59L851 254.76L861 252.93L871 251.11L881 249.3L891 247.49L901 245.69L911 243.9L921 242.1L931 240.32L941 238.53L951 236.75L961 234.98L971 233.21L981 231.44L991 229.68L1001 227.91L1011 226.16L1021 224.4L1031 222.65L1041 220.9L1051 219.15L1061 217.41L1071 215.66L1081 213.92L1091 212.18L1101 210.45L1111 208.71L1121 206.98L1131 205.25L1141 203.52L1151 201.79L1161 200.06L1171 198.34L1181 196.61L1191 194.89L1201 193.17L1211 191.45L1221 189.73L1231 188.01L1241 186.29L1251 184.57L1261 182.86L1271 181.14L1281 179.43" stroke="#999" stroke-width="1.9" fill="none" stroke-dasharray="14.5 15.22"/>
<g>
<circle cx="243.9" cy="257.5" r="3.75" fill="#99cc66" stroke="#18220e" stroke-width="0.9" stroke-linejoin="miter"/>
<path d="M276.4 260.25L279.9 266.55L272.9 266.55Z" fill="#99cc66" stroke="#18220e" stroke-width="0.9" stroke-linejoin="miter"/>
<path d="M249.5 271.45L253 277.75L246 277.75Z" fill="#99cc66" stroke="#18220e" stroke-width="0.9" stroke-linejoin="miter"/>
<path d="M326.8 296.05L330.3 302.35L323.3 302.35Z" fill="#99cc66" stroke="#18220e" stroke-width="0.9" stroke-linejoin="miter"/>
<path d="M267.6 299.75L271.1 306.05L264.1 306.05Z" fill="#99cc66" stroke="#18220e" stroke-width="0.9" stroke-linejoin="miter"/>
<path d="M269.5 301.85L273 308.15L266 308.15Z" fill="#99cc66" stroke="#18220e" stroke-width="0.9" stroke-linejoin="miter"/>
<path d="M325.5 305.35L329 311.65L322 311.65Z" fill="#6666ff" stroke="#101036" stroke-width="0.9" stroke-linejoin="miter"/>
<path d="M249 318.45L252.5 324.75L245.5 324.75Z" fill="#6666ff" stroke="#101036" stroke-width="0.9" stroke-linejoin="miter"/>
<path d="M288.5 322.35L292 328.65L285 328.65Z" fill="#6666ff" stroke="#101036" stroke-width="0.9" stroke-linejoin="miter"/>
<path d="M189.8 333.65L193.3 339.95L186.3 339.95Z" fill="#99cc66" stroke="#18220e" stroke-width="0.9" stroke-linejoin="miter"/>
<path d="M221.9 331.45L225.4 337.75L218.4 337.75Z" fill="#6666ff" stroke="#101036" stroke-width="0.9" stroke-linejoin="miter"/>
<path d="M100.52 357.28L101.72 358.48L99 361.2L101.72 363.92L100.52 365.12L97.8 362.4L95.08 365.12L93.88 363.92L96.6 361.2L93.88 358.48L95.08 357.28L97.8 360Z" fill="#fc0062" stroke="#2e0818" stroke-width="0.9" stroke-linejoin="miter"/>
<path d="M111.72 360.98L112.92 362.18L110.2 364.9L112.92 367.62L111.72 368.82L109 366.1L106.28 368.82L105.08 367.62L107.8 364.9L105.08 362.18L106.28 360.98L109 363.7Z" fill="#fc0062" stroke="#2e0818" stroke-width="0.9" stroke-linejoin="miter"/>
<path d="M180.42 366.58L181.62 367.78L178.9 370.5L181.62 373.22L180.42 374.42L177.7 371.7L174.98 374.42L173.78 373.22L176.5 370.5L173.78 367.78L174.98 366.58L177.7 369.3Z" fill="#fc0062" stroke="#2e0818" stroke-width="0.9" stroke-linejoin="miter"/>
<path d="M142.32 376.08L143.52 377.28L140.8 380L143.52 382.72L142.32 383.92L139.6 381.2L136.88 383.92L135.68 382.72L138.4 380L135.68 377.28L136.88 376.08L139.6 378.8Z" fill="#fc0062" stroke="#2e0818" stroke-width="0.9" stroke-linejoin="miter"/>
<path d="M205.3 369.65L208.8 375.95L201.8 375.95Z" fill="#6666ff" stroke="#101036" stroke-width="0.9" stroke-linejoin="miter"/>
<path d="M217.6 373.05L221.1 379.35L214.1 379.35Z" fill="#6666ff" stroke="#101036" stroke-width="0.9" stroke-linejoin="miter"/>
<path d="M304.8 354.35L308.3 360.65L301.3 360.65Z" fill="#6666ff" stroke="#101036" stroke-width="0.9" stroke-linejoin="miter"/>
<path d="M294.7 367.25L298.2 373.55L291.2 373.55Z" fill="#6666ff" stroke="#101036" stroke-width="0.9" stroke-linejoin="miter"/>
<path d="M302.7 376.1L308.7 372.7L308.7 379.5Z" fill="#fc0062" stroke="#2e0818" stroke-width="0.9" stroke-linejoin="miter"/>
<path d="M315.4 380.15L318.9 386.45L311.9 386.45Z" fill="#6666ff" stroke="#101036" stroke-width="0.9" stroke-linejoin="miter"/>
<path d="M314.7 378.45L318.2 384.75L311.2 384.75Z" fill="#6666ff" stroke="#101036" stroke-width="0.9" stroke-linejoin="miter"/>
<path d="M264.1 380.65L267.6 386.95L260.6 386.95Z" fill="#6666ff" stroke="#101036" stroke-width="0.9" stroke-linejoin="miter"/>
<path d="M309.92 396.78L311.12 397.98L308.4 400.7L311.12 403.42L309.92 404.62L307.2 401.9L304.48 404.62L303.28 403.42L306 400.7L303.28 397.98L304.48 396.78L307.2 399.5Z" fill="#fc0062" stroke="#2e0818" stroke-width="0.9" stroke-linejoin="miter"/>
<path d="M264.1 406.65L267.6 412.95L260.6 412.95Z" fill="#6666ff" stroke="#101036" stroke-width="0.9" stroke-linejoin="miter"/>
<path d="M228.8 419.85L232.3 426.15L225.3 426.15Z" fill="#6666ff" stroke="#101036" stroke-width="0.9" stroke-linejoin="miter"/>
<path d="M300.5 418.15L304 424.45L297 424.45Z" fill="#6666ff" stroke="#101036" stroke-width="0.9" stroke-linejoin="miter"/>
<path d="M157.4 413.6L158.5 415.59L160.78 415.55L159.6 417.5L160.78 419.45L158.5 419.41L157.4 421.4L156.3 419.41L154.02 419.45L155.2 417.5L154.02 415.55L156.3 415.59Z" fill="#fff" stroke="#0a0a0a" stroke-width="1"/>
<path d="M530.9 170.45L534.4 176.75L527.4 176.75Z" fill="#cc6699" stroke="#2a1422" stroke-width="0.9" stroke-linejoin="miter"/>
<path d="M538.9 224.35L542.4 230.65L535.4 230.65Z" fill="#cc6699" stroke="#2a1422" stroke-width="0.9" stroke-linejoin="miter"/>
<path d="M434.2 231.95L437.7 238.25L430.7 238.25Z" fill="#99cc66" stroke="#18220e" stroke-width="0.9" stroke-linejoin="miter"/>
<circle cx="589.7" cy="236.7" r="3.75" fill="#6666ff" stroke="#101036" stroke-width="0.9" stroke-linejoin="miter"/>
<path d="M368.9 254.25L372.4 260.55L365.4 260.55Z" fill="#99cc66" stroke="#18220e" stroke-width="0.9" stroke-linejoin="miter"/>
<circle cx="359.4" cy="294.9" r="3.75" fill="#6666ff" stroke="#101036" stroke-width="0.9" stroke-linejoin="miter"/>
<circle cx="343" cy="313.9" r="3.75" fill="#6666ff" stroke="#101036" stroke-width="0.9" stroke-linejoin="miter"/>
<path d="M372.5 303.35L376 309.65L369 309.65Z" fill="#99cc66" stroke="#18220e" stroke-width="0.9" stroke-linejoin="miter"/>
<path d="M366.3 314.55L369.8 320.85L362.8 320.85Z" fill="#99cc66" stroke="#18220e" stroke-width="0.9" stroke-linejoin="miter"/>
<path d="M411.5 280.75L415 287.05L408 287.05Z" fill="#99cc66" stroke="#18220e" stroke-width="0.9" stroke-linejoin="miter"/>
<path d="M410.2 290.15L413.7 296.45L406.7 296.45Z" fill="#99cc66" stroke="#18220e" stroke-width="0.9" stroke-linejoin="miter"/>
<path d="M399 295.75L402.5 302.05L395.5 302.05Z" fill="#99cc66" stroke="#18220e" stroke-width="0.9" stroke-linejoin="miter"/>
<path d="M429.9 336.5L435.9 333.1L435.9 339.9Z" fill="#fc0062" stroke="#2e0818" stroke-width="0.9" stroke-linejoin="miter"/>
<path d="M438.5 322.25L442 328.55L435 328.55Z" fill="#fc0062" stroke="#2e0818" stroke-width="0.9" stroke-linejoin="miter"/>
<path d="M454.2 337.15L457.7 343.45L450.7 343.45Z" fill="#6666ff" stroke="#101036" stroke-width="0.9" stroke-linejoin="miter"/>
<path d="M464.3 314.55L467.8 320.85L460.8 320.85Z" fill="#99cc66" stroke="#18220e" stroke-width="0.9" stroke-linejoin="miter"/>
<path d="M487.4 284.35L490.9 290.65L483.9 290.65Z" fill="#99cc66" stroke="#18220e" stroke-width="0.9" stroke-linejoin="miter"/>
<circle cx="499.9" cy="284" r="3.75" fill="#6666ff" stroke="#101036" stroke-width="0.9" stroke-linejoin="miter"/>
<path d="M515.7 266.9L521.7 263.5L521.7 270.3Z" fill="#fc0062" stroke="#2e0818" stroke-width="0.9" stroke-linejoin="miter"/>
<circle cx="536.5" cy="304.4" r="3.75" fill="#6666ff" stroke="#101036" stroke-width="0.9" stroke-linejoin="miter"/>
<circle cx="571" cy="302.7" r="3.75" fill="#6666ff" stroke="#101036" stroke-width="0.9" stroke-linejoin="miter"/>
<path d="M578.92 311.88L580.12 313.08L577.4 315.8L580.12 318.52L578.92 319.72L576.2 317L573.48 319.72L572.28 318.52L575 315.8L572.28 313.08L573.48 311.88L576.2 314.6Z" fill="#fc0062" stroke="#2e0818" stroke-width="0.9" stroke-linejoin="miter"/>
<path d="M578.92 347.68L580.12 348.88L577.4 351.6L580.12 354.32L578.92 355.52L576.2 352.8L573.48 355.52L572.28 354.32L575 351.6L572.28 348.88L573.48 347.68L576.2 350.4Z" fill="#fc0062" stroke="#2e0818" stroke-width="0.9" stroke-linejoin="miter"/>
<circle cx="590.2" cy="310.2" r="3.75" fill="#6666ff" stroke="#101036" stroke-width="0.9" stroke-linejoin="miter"/>
<path d="M597.5 296.25L601 302.55L594 302.55Z" fill="#99cc66" stroke="#18220e" stroke-width="0.9" stroke-linejoin="miter"/>
<circle cx="597.9" cy="298.4" r="3.75" fill="#6666ff" stroke="#101036" stroke-width="0.9" stroke-linejoin="miter"/>
<circle cx="592.1" cy="298.8" r="3.75" fill="#99cc66" stroke="#18220e" stroke-width="0.9" stroke-linejoin="miter"/>
<path d="M600.1 286.35L603.6 292.65L596.6 292.65Z" fill="#99cc66" stroke="#18220e" stroke-width="0.9" stroke-linejoin="miter"/>
<path d="M370 363.75L373.5 370.05L366.5 370.05Z" fill="#6666ff" stroke="#101036" stroke-width="0.9" stroke-linejoin="miter"/>
<path d="M387 365.95L390.5 372.25L383.5 372.25Z" fill="#6666ff" stroke="#101036" stroke-width="0.9" stroke-linejoin="miter"/>
<path d="M405.3 361.85L408.8 368.15L401.8 368.15Z" fill="#6666ff" stroke="#101036" stroke-width="0.9" stroke-linejoin="miter"/>
<path d="M444.7 360.35L448.2 366.65L441.2 366.65Z" fill="#6666ff" stroke="#101036" stroke-width="0.9" stroke-linejoin="miter"/>
<path d="M355.7 393.95L359.2 400.25L352.2 400.25Z" fill="#6666ff" stroke="#101036" stroke-width="0.9" stroke-linejoin="miter"/>
<path d="M385 386.35L388.5 392.65L381.5 392.65Z" fill="#6666ff" stroke="#101036" stroke-width="0.9" stroke-linejoin="miter"/>
<path d="M398.2 388.15L401.7 394.45L394.7 394.45Z" fill="#6666ff" stroke="#101036" stroke-width="0.9" stroke-linejoin="miter"/>
<path d="M401.8 393.95L405.3 400.25L398.3 400.25Z" fill="#6666ff" stroke="#101036" stroke-width="0.9" stroke-linejoin="miter"/>
<path d="M407.9 396.05L411.4 402.35L404.4 402.35Z" fill="#6666ff" stroke="#101036" stroke-width="0.9" stroke-linejoin="miter"/>
<path d="M419.1 393.95L422.6 400.25L415.6 400.25Z" fill="#6666ff" stroke="#101036" stroke-width="0.9" stroke-linejoin="miter"/>
<path d="M432.2 390.45L435.7 396.75L428.7 396.75Z" fill="#6666ff" stroke="#101036" stroke-width="0.9" stroke-linejoin="miter"/>
<path d="M387 403.65L390.5 409.95L383.5 409.95Z" fill="#6666ff" stroke="#101036" stroke-width="0.9" stroke-linejoin="miter"/>
<path d="M423.6 401.45L427.1 407.75L420.1 407.75Z" fill="#6666ff" stroke="#101036" stroke-width="0.9" stroke-linejoin="miter"/>
<path d="M420.6 404.45L424.1 410.75L417.1 410.75Z" fill="#6666ff" stroke="#101036" stroke-width="0.9" stroke-linejoin="miter"/>
<path d="M468 392.25L471.5 398.55L464.5 398.55Z" fill="#6666ff" stroke="#101036" stroke-width="0.9" stroke-linejoin="miter"/>
<path d="M490.72 376.08L491.92 377.28L489.2 380L491.92 382.72L490.72 383.92L488 381.2L485.28 383.92L484.08 382.72L486.8 380L484.08 377.28L485.28 376.08L488 378.8Z" fill="#fc0062" stroke="#2e0818" stroke-width="0.9" stroke-linejoin="miter"/>
<path d="M487 391.4L493 388L493 394.8Z" fill="#fc0062" stroke="#2e0818" stroke-width="0.9" stroke-linejoin="miter"/>
<path d="M523.2 407.7L524.3 409.69L526.58 409.65L525.4 411.6L526.58 413.55L524.3 413.51L523.2 415.5L522.1 413.51L519.82 413.55L521 411.6L519.82 409.65L522.1 409.69Z" fill="#fff" stroke="#0a0a0a" stroke-width="1"/>
<path d="M530.1 354.75L533.6 361.05L526.6 361.05Z" fill="#6666ff" stroke="#101036" stroke-width="0.9" stroke-linejoin="miter"/>
<path d="M653.2 147.45L656.7 153.75L649.7 153.75Z" fill="#cc6699" stroke="#2a1422" stroke-width="0.9" stroke-linejoin="miter"/>
<circle cx="837.9" cy="161.7" r="3.75" fill="#99cc66" stroke="#18220e" stroke-width="0.9" stroke-linejoin="miter"/>
<path d="M609.3 218.65L612.8 224.95L605.8 224.95Z" fill="#cc6699" stroke="#2a1422" stroke-width="0.9" stroke-linejoin="miter"/>
<circle cx="620" cy="251.7" r="3.75" fill="#6666ff" stroke="#101036" stroke-width="0.9" stroke-linejoin="miter"/>
<circle cx="640.1" cy="207.1" r="3.75" fill="#99cc66" stroke="#18220e" stroke-width="0.9" stroke-linejoin="miter"/>
<path d="M654.02 199.48L655.22 200.68L652.5 203.4L655.22 206.12L654.02 207.32L651.3 204.6L648.58 207.32L647.38 206.12L650.1 203.4L647.38 200.68L648.58 199.48L651.3 202.2Z" fill="#fc0062" stroke="#2e0818" stroke-width="0.9" stroke-linejoin="miter"/>
<path d="M665.3 236.6L671.3 233.2L671.3 240Z" fill="#fc0062" stroke="#2e0818" stroke-width="0.9" stroke-linejoin="miter"/>
<path d="M640.5 259.2L646.5 255.8L646.5 262.6Z" fill="#fc0062" stroke="#2e0818" stroke-width="0.9" stroke-linejoin="miter"/>
<path d="M697.92 212.58L699.12 213.78L696.4 216.5L699.12 219.22L697.92 220.42L695.2 217.7L692.48 220.42L691.28 219.22L694 216.5L691.28 213.78L692.48 212.58L695.2 215.3Z" fill="#fc0062" stroke="#2e0818" stroke-width="0.9" stroke-linejoin="miter"/>
<circle cx="717.2" cy="223.2" r="3.75" fill="#6666ff" stroke="#101036" stroke-width="0.9" stroke-linejoin="miter"/>
<path d="M787.22 210.68L788.42 211.88L785.7 214.6L788.42 217.32L787.22 218.52L784.5 215.8L781.78 218.52L780.58 217.32L783.3 214.6L780.58 211.88L781.78 210.68L784.5 213.4Z" fill="#fc0062" stroke="#2e0818" stroke-width="0.9" stroke-linejoin="miter"/>
<path d="M753.52 238.48L754.72 239.68L752 242.4L754.72 245.12L753.52 246.32L750.8 243.6L748.08 246.32L746.88 245.12L749.6 242.4L746.88 239.68L748.08 238.48L750.8 241.2Z" fill="#fc0062" stroke="#2e0818" stroke-width="0.9" stroke-linejoin="miter"/>
<circle cx="754.5" cy="240.2" r="3.75" fill="#99cc66" stroke="#18220e" stroke-width="0.9" stroke-linejoin="miter"/>
<path d="M751.1 250.2L757.1 246.8L757.1 253.6Z" fill="#fc0062" stroke="#2e0818" stroke-width="0.9" stroke-linejoin="miter"/>
<circle cx="787.7" cy="240.2" r="3.75" fill="#99cc66" stroke="#18220e" stroke-width="0.9" stroke-linejoin="miter"/>
<path d="M804.5 218.65L808 224.95L801 224.95Z" fill="#fc0062" stroke="#2e0818" stroke-width="0.9" stroke-linejoin="miter"/>
<circle cx="810.5" cy="231.2" r="3.75" fill="#99cc66" stroke="#18220e" stroke-width="0.9" stroke-linejoin="miter"/>
<path d="M821.3 214.8L827.3 211.4L827.3 218.2Z" fill="#fc0062" stroke="#2e0818" stroke-width="0.9" stroke-linejoin="miter"/>
<path d="M848.3 201.7L854.3 198.3L854.3 205.1Z" fill="#fc0062" stroke="#2e0818" stroke-width="0.9" stroke-linejoin="miter"/>
<path d="M864 203.4L870 200L870 206.8Z" fill="#fc0062" stroke="#2e0818" stroke-width="0.9" stroke-linejoin="miter"/>
<path d="M859 225.4L865 222L865 228.8Z" fill="#fc0062" stroke="#2e0818" stroke-width="0.9" stroke-linejoin="miter"/>
<circle cx="829.7" cy="245.8" r="3.75" fill="#6666ff" stroke="#101036" stroke-width="0.9" stroke-linejoin="miter"/>
<path d="M825.6 268.7L831.6 265.3L831.6 272.1Z" fill="#fc0062" stroke="#2e0818" stroke-width="0.9" stroke-linejoin="miter"/>
<path d="M782.3 270.4L788.3 267L788.3 273.8Z" fill="#fc0062" stroke="#2e0818" stroke-width="0.9" stroke-linejoin="miter"/>
<circle cx="854.9" cy="249.9" r="3.75" fill="#99cc66" stroke="#18220e" stroke-width="0.9" stroke-linejoin="miter"/>
<path d="M859.7 248L865.7 244.6L865.7 251.4Z" fill="#fc0062" stroke="#2e0818" stroke-width="0.9" stroke-linejoin="miter"/>
<circle cx="853" cy="259" r="3.75" fill="#99cc66" stroke="#18220e" stroke-width="0.9" stroke-linejoin="miter"/>
<path d="M637.22 283.88L638.42 285.08L635.7 287.8L638.42 290.52L637.22 291.72L634.5 289L631.78 291.72L630.58 290.52L633.3 287.8L630.58 285.08L631.78 283.88L634.5 286.6Z" fill="#fc0062" stroke="#2e0818" stroke-width="0.9" stroke-linejoin="miter"/>
<circle cx="659.7" cy="287.8" r="3.75" fill="#6666ff" stroke="#101036" stroke-width="0.9" stroke-linejoin="miter"/>
<path d="M633.6 319.6L634.7 321.59L636.98 321.55L635.8 323.5L636.98 325.45L634.7 325.41L633.6 327.4L632.5 325.41L630.22 325.45L631.4 323.5L630.22 321.55L632.5 321.59Z" fill="#fff" stroke="#0a0a0a" stroke-width="1"/>
<path d="M682.1 353.7L688.1 350.3L688.1 357.1Z" fill="#fc0062" stroke="#2e0818" stroke-width="0.9" stroke-linejoin="miter"/>
<path d="M624.3 367.65L627.8 373.95L620.8 373.95Z" fill="#6666ff" stroke="#101036" stroke-width="0.9" stroke-linejoin="miter"/>
<path d="M645 373.25L648.5 379.55L641.5 379.55Z" fill="#6666ff" stroke="#101036" stroke-width="0.9" stroke-linejoin="miter"/>
<path d="M786.6 296.6L792.6 293.2L792.6 300Z" fill="#fc0062" stroke="#2e0818" stroke-width="0.9" stroke-linejoin="miter"/>
<path d="M852.1 285.6L853.2 287.59L855.48 287.55L854.3 289.5L855.48 291.45L853.2 291.41L852.1 293.4L851 291.41L848.72 291.45L849.9 289.5L848.72 287.55L851 287.59Z" fill="#fff" stroke="#0a0a0a" stroke-width="1"/>
<path d="M813.8 380L814.9 381.99L817.18 381.95L816 383.9L817.18 385.85L814.9 385.81L813.8 387.8L812.7 385.81L810.42 385.85L811.6 383.9L810.42 381.95L812.7 381.99Z" fill="#fff" stroke="#0a0a0a" stroke-width="1"/>
<circle cx="969" cy="73.1" r="3.75" fill="#cc6699" stroke="#2a1422" stroke-width="0.9" stroke-linejoin="miter"/>
<circle cx="913.2" cy="116.6" r="3.75" fill="#cc6699" stroke="#2a1422" stroke-width="0.9" stroke-linejoin="miter"/>
<path d="M989.3 117.45L992.8 123.75L985.8 123.75Z" fill="#cc6699" stroke="#2a1422" stroke-width="0.9" stroke-linejoin="miter"/>
<circle cx="1092.1" cy="146.8" r="3.75" fill="#cc6699" stroke="#2a1422" stroke-width="0.9" stroke-linejoin="miter"/>
<circle cx="1027.6" cy="156.2" r="3.75" fill="#fc0062" stroke="#2e0818" stroke-width="0.9" stroke-linejoin="miter"/>
<circle cx="1055" cy="158" r="3.75" fill="#fc0062" stroke="#2e0818" stroke-width="0.9" stroke-linejoin="miter"/>
<path d="M994.8 173.4L988.4 169.9L988.4 176.9Z" fill="#fff" stroke="#0a0a0a" stroke-width="1"/>
<path d="M1023.8 180.5L1029.8 177.1L1029.8 183.9Z" fill="#fc0062" stroke="#2e0818" stroke-width="0.9" stroke-linejoin="miter"/>
<path d="M1096.6 182.4L1090.2 178.9L1090.2 185.9Z" fill="#fff" stroke="#0a0a0a" stroke-width="1"/>
<path d="M1102.6 190L1096.2 186.5L1096.2 193.5Z" fill="#fff" stroke="#0a0a0a" stroke-width="1"/>
<circle cx="969.7" cy="195.6" r="3.75" fill="#99cc66" stroke="#18220e" stroke-width="0.9" stroke-linejoin="miter"/>
<circle cx="977.9" cy="190" r="3.75" fill="#99cc66" stroke="#18220e" stroke-width="0.9" stroke-linejoin="miter"/>
<path d="M981.7 195.8L975.3 192.3L975.3 199.3Z" fill="#fff" stroke="#0a0a0a" stroke-width="1"/>
<path d="M990.4 190.2L996.4 186.8L996.4 193.6Z" fill="#fc0062" stroke="#2e0818" stroke-width="0.9" stroke-linejoin="miter"/>
<path d="M910.6 201.4L911.7 203.39L913.98 203.35L912.8 205.3L913.98 207.25L911.7 207.21L910.6 209.2L909.5 207.21L907.22 207.25L908.4 205.3L907.22 203.35L909.5 203.39Z" fill="#fff" stroke="#0a0a0a" stroke-width="1"/>
<path d="M944 199.6L945.1 201.59L947.38 201.55L946.2 203.5L947.38 205.45L945.1 205.41L944 207.4L942.9 205.41L940.62 205.45L941.8 203.5L940.62 201.55L942.9 201.59Z" fill="#fff" stroke="#0a0a0a" stroke-width="1"/>
<path d="M979.2 201.4L980.3 203.39L982.58 203.35L981.4 205.3L982.58 207.25L980.3 207.21L979.2 209.2L978.1 207.21L975.82 207.25L977 205.3L975.82 203.35L978.1 203.39Z" fill="#fff" stroke="#0a0a0a" stroke-width="1"/>
<circle cx="1047.7" cy="199.4" r="3.75" fill="#fc0062" stroke="#2e0818" stroke-width="0.9" stroke-linejoin="miter"/>
<circle cx="960.4" cy="214.7" r="3.75" fill="#6666ff" stroke="#101036" stroke-width="0.9" stroke-linejoin="miter"/>
<path d="M988.52 212.78L989.72 213.98L987 216.7L989.72 219.42L988.52 220.62L985.8 217.9L983.08 220.62L981.88 219.42L984.6 216.7L981.88 213.98L983.08 212.78L985.8 215.5Z" fill="#fc0062" stroke="#2e0818" stroke-width="0.9" stroke-linejoin="miter"/>
<circle cx="1022.7" cy="218.4" r="3.75" fill="#fc0062" stroke="#2e0818" stroke-width="0.9" stroke-linejoin="miter"/>
<circle cx="1037.1" cy="216.7" r="3.75" fill="#fc0062" stroke="#2e0818" stroke-width="0.9" stroke-linejoin="miter"/>
<path d="M889.3 227.4L882.9 223.9L882.9 230.9Z" fill="#fff" stroke="#0a0a0a" stroke-width="1"/>
<path d="M931.8 221.6L937.8 218.2L937.8 225Z" fill="#fc0062" stroke="#2e0818" stroke-width="0.9" stroke-linejoin="miter"/>
<path d="M961.3 223.4L967.3 220L967.3 226.8Z" fill="#fc0062" stroke="#2e0818" stroke-width="0.9" stroke-linejoin="miter"/>
<path d="M1043.4 233.65L1046.9 239.95L1039.9 239.95Z" fill="#cc6699" stroke="#2a1422" stroke-width="0.9" stroke-linejoin="miter"/>
<circle cx="880.7" cy="236.5" r="3.75" fill="#6666ff" stroke="#101036" stroke-width="0.9" stroke-linejoin="miter"/>
<path d="M890.8 236.5L896.8 233.1L896.8 239.9Z" fill="#fc0062" stroke="#2e0818" stroke-width="0.9" stroke-linejoin="miter"/>
<circle cx="906.3" cy="240.4" r="3.75" fill="#99cc66" stroke="#18220e" stroke-width="0.9" stroke-linejoin="miter"/>
<path d="M913.6 244.5L907.2 241L907.2 248Z" fill="#fff" stroke="#0a0a0a" stroke-width="1"/>
<path d="M930 233L931.1 234.99L933.38 234.95L932.2 236.9L933.38 238.85L931.1 238.81L930 240.8L928.9 238.81L926.62 238.85L927.8 236.9L926.62 234.95L928.9 234.99Z" fill="#fff" stroke="#0a0a0a" stroke-width="1"/>
<circle cx="898.8" cy="257.4" r="3.75" fill="#99cc66" stroke="#18220e" stroke-width="0.9" stroke-linejoin="miter"/>
<path d="M882.2 266L888.2 262.6L888.2 269.4Z" fill="#fc0062" stroke="#2e0818" stroke-width="0.9" stroke-linejoin="miter"/>
<circle cx="898.1" cy="278.2" r="3.75" fill="#6666ff" stroke="#101036" stroke-width="0.9" stroke-linejoin="miter"/>
<circle cx="936.5" cy="276.5" r="3.75" fill="#6666ff" stroke="#101036" stroke-width="0.9" stroke-linejoin="miter"/>
<circle cx="985" cy="281.9" r="3.75" fill="#99cc66" stroke="#18220e" stroke-width="0.9" stroke-linejoin="miter"/>
<path d="M937.4 289.4L943.4 286L943.4 292.8Z" fill="#fc0062" stroke="#2e0818" stroke-width="0.9" stroke-linejoin="miter"/>
<circle cx="878.1" cy="301" r="3.75" fill="#6666ff" stroke="#101036" stroke-width="0.9" stroke-linejoin="miter"/>
<path d="M1011.9 272.3L1013 274.29L1015.28 274.25L1014.1 276.2L1015.28 278.15L1013 278.11L1011.9 280.1L1010.8 278.11L1008.52 278.15L1009.7 276.2L1008.52 274.25L1010.8 274.29Z" fill="#fff" stroke="#0a0a0a" stroke-width="1"/>
<path d="M1029.2 270.4L1030.3 272.39L1032.58 272.35L1031.4 274.3L1032.58 276.25L1030.3 276.21L1029.2 278.2L1028.1 276.21L1025.82 276.25L1027 274.3L1025.82 272.35L1028.1 272.39Z" fill="#fff" stroke="#0a0a0a" stroke-width="1"/>
<circle cx="1181.5" cy="218.5" r="3.75" fill="#fc0062" stroke="#2e0818" stroke-width="0.9" stroke-linejoin="miter"/>
<path d="M1133.7 210.7L1134.8 212.69L1137.08 212.65L1135.9 214.6L1137.08 216.55L1134.8 216.51L1133.7 218.5L1132.6 216.51L1130.32 216.55L1131.5 214.6L1130.32 212.65L1132.6 212.69Z" fill="#fff" stroke="#0a0a0a" stroke-width="1"/>
<path d="M1130 221.7L1136 218.3L1136 225.1Z" fill="#fc0062" stroke="#2e0818" stroke-width="0.9" stroke-linejoin="miter"/>
</g>
<rect x="96.5" y="11.5" width="70.5" height="205" fill="#fff" stroke="#333" stroke-width="1"/>
<g font-family="'Liberation Sans', sans-serif" font-size="13.8" fill="#111" stroke="#111" stroke-width="0.15">
<text x="101.5" y="26.1">MIS 1</text>
<path d="M156.3 18.57L159.24 23.86L153.36 23.86Z" fill="#fc0062" stroke="#2e0818" stroke-width="0.76" stroke-linejoin="miter"/>
<text x="101.5" y="42.95">MIS 2</text>
<circle cx="156.3" cy="38.15" r="3.15" fill="#fc0062" stroke="#2e0818" stroke-width="0.76" stroke-linejoin="miter"/>
<text x="101.5" y="59.8">MIS 3</text>
<rect x="153.15" y="51.85" width="6.3" height="6.3" fill="#fc0062" stroke="#2e0818" stroke-width="0.76" stroke-linejoin="miter"/>
<text x="101.5" y="76.65">MIS 4</text>
<path d="M156.3 68.83L159.32 71.85L156.3 74.87L153.28 71.85Z" fill="#fc0062" stroke="#2e0818" stroke-width="0.76" stroke-linejoin="miter"/>
<text x="101.5" y="93.5">MIS 5</text>
<path d="M155.59 85.63L157.01 85.63L157.01 87.99L159.37 87.99L159.37 89.41L157.01 89.41L157.01 91.77L155.59 91.77L155.59 89.41L153.23 89.41L153.23 87.99L155.59 87.99Z" fill="#fc0062" stroke="#2e0818" stroke-width="0.76" stroke-linejoin="miter"/>
<text x="101.5" y="110.35">MIS 6</text>
<path d="M156.3 102.61L157.04 104.78L159.34 104.82L157.5 106.19L158.18 108.38L156.3 107.06L154.42 108.38L155.1 106.19L153.26 104.82L155.56 104.78Z" fill="#fc0062" stroke="#2e0818" stroke-width="0.76" stroke-linejoin="miter"/>
<text x="101.5" y="127.2">MIS 7</text>
<path d="M158.59 119.1L159.6 120.11L157.31 122.4L159.6 124.69L158.59 125.7L156.3 123.41L154.01 125.7L153 124.69L155.29 122.4L153 120.11L154.01 119.1L156.3 121.39Z" fill="#fc0062" stroke="#2e0818" stroke-width="0.76" stroke-linejoin="miter"/>
<text x="101.5" y="144.05">MIS 8</text>
<path d="M153.61 139.25L158.65 136.39L158.65 142.11Z" fill="#fc0062" stroke="#2e0818" stroke-width="0.76" stroke-linejoin="miter"/>
<text x="101.5" y="160.9">MIS 9</text>
<path d="M156.3 153.08L159.32 156.1L156.3 159.12L153.28 156.1ZM156.3 154.76L154.96 156.1L156.3 157.44L157.64 156.1Z" fill-rule="evenodd" fill="#fc0062" stroke="#2e0818" stroke-width="0.76" stroke-linejoin="miter"/>
<text x="101.5" y="177.75">MIS 10</text>
<path d="M156.3 169.67L157.22 171.35L159.14 171.31L158.15 172.95L159.14 174.59L157.22 174.55L156.3 176.23L155.38 174.55L153.46 174.59L154.45 172.95L153.46 171.31L155.38 171.35Z" fill="#fff" stroke="#0a0a0a" stroke-width="0.84"/>
<text x="101.5" y="194.6">MIS 11</text>
<path d="M153.23 186.73L159.37 186.73L159.37 192.87L153.23 192.87ZM154.75 188.25L154.75 191.35L157.85 191.35L157.85 188.25Z" fill-rule="evenodd" fill="#fc0062" stroke="#2e0818" stroke-width="0.76" stroke-linejoin="miter"/>
<text x="101.5" y="211.45">MIS 12</text>
<path d="M159.16 206.65L153.78 203.71L153.78 209.59Z" fill="#fff" stroke="#0a0a0a" stroke-width="0.84"/>
</g>
<g font-family="'Liberation Sans', sans-serif" font-size="17.6" fill="#111" stroke="#111" stroke-width="0.2">
<rect x="1294" y="374" width="30" height="9.5" fill="#ff0066"/>
<text x="1287" y="385" text-anchor="end">ODP1123</text>
<rect x="1294" y="396" width="30" height="9.5" fill="#99cc66"/>
<text x="1287" y="407" text-anchor="end">CHAT 16K</text>
<rect x="1294" y="418" width="30" height="9.5" fill="#cc6699"/>
<text x="1287" y="429" text-anchor="end">CHAT 1K</text>
<rect x="1294" y="440" width="30" height="9.5" fill="#6666ff"/>
<text x="1287" y="451" text-anchor="end">NEAP 8K</text>
</g>
</svg>
</body></html>
